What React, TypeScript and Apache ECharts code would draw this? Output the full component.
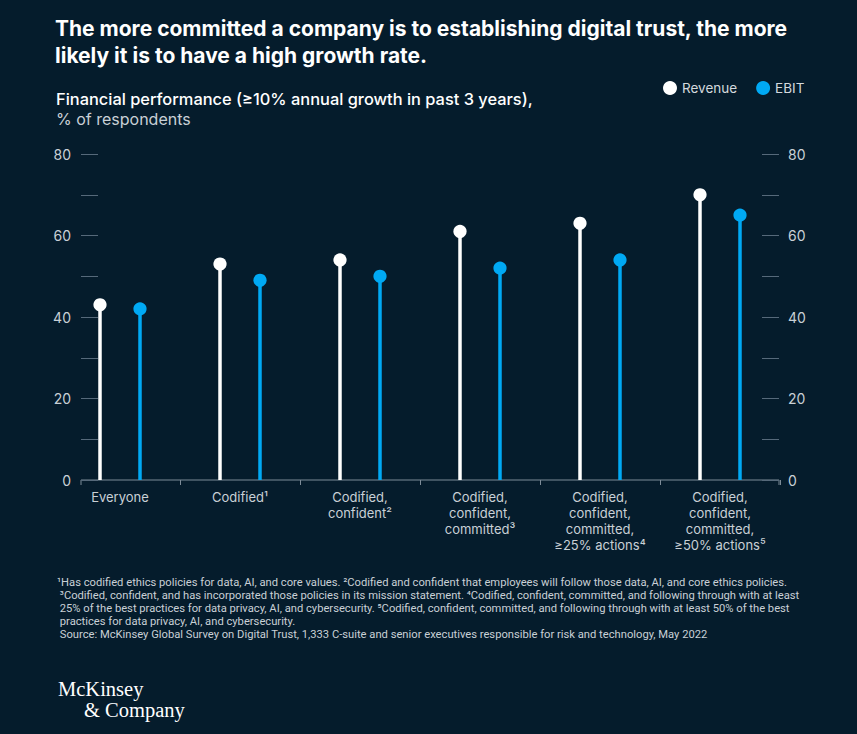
import React, { useEffect, useRef } from 'react';
import * as echarts from 'echarts';

const categories = [
  'Everyone',
  'Codified¹',
  'Codified,\nconfident²',
  'Codified,\nconfident,\ncommitted³',
  'Codified,\nconfident,\ncommitted,\n≥25% actions⁴',
  'Codified,\nconfident,\ncommitted,\n≥50% actions⁵',
];
const revenue = [43, 53, 54, 61, 63, 70];
const ebit = [42, 49, 50, 52, 54, 65];
const yTickLabels = [0, 20, 40, 60, 80];

const titleLines = [
  'The more committed a company is to establishing digital trust, the more',
  'likely it is to have a high growth rate.',
];
const subtitle = 'Financial performance (≥10% annual growth in past 3 years),';
const unitLine = '% of respondents';
const footnotes = [
  '¹Has codified ethics policies for data, AI, and core values. ²Codified and confident that employees will follow those data, AI, and core ethics policies.',
  ' ³Codified, confident, and has incorporated those policies in its mission statement. ⁴Codified, confident, committed, and following through with at least',
  ' 25% of the best practices for data privacy, AI, and cybersecurity. ⁵Codified, confident, committed, and following through with at least 50% of the best',
  ' practices for data privacy, AI, and cybersecurity.',
  ' Source: McKinsey Global Survey on Digital Trust, 1,333 C-suite and senior executives responsible for risk and technology, May 2022',
];

const BG = '#051c2c';
const BLUE = '#00a9f4';
const WHITE = '#ffffff';
const LABEL = '#c9d0d6';
const TICK = '#56697a';
const FONT = 'Roboto, "Noto Sans", sans-serif';
const WIDE = 'Inter, Roboto, sans-serif';
const SERIF = '"Liberation Serif", "DejaVu Serif", serif';

function lollipop(color: string, sign: number) {
  return (params: any, api: any) => {
    const idx = api.value(0);
    const v = api.value(1);
    const top = api.coord([idx, v]);
    const base = api.coord([idx, 0]);
    const band = api.size([1, 0])[0];
    const x = top[0] + (sign * band) / 6;
    return {
      type: 'group',
      children: [
        {
          type: 'line',
          shape: { x1: x, y1: base[1], x2: x, y2: top[1] },
          style: { stroke: color, lineWidth: 3.5 },
        },
        {
          type: 'circle',
          shape: { cx: x, cy: top[1], r: 6.6 },
          style: { fill: color },
        },
      ],
    };
  };
}

export default function App() {
  const ref = useRef<HTMLDivElement>(null);
  useEffect(() => {
    if (!ref.current) return;
    const chart = echarts.init(ref.current, undefined, { renderer: 'svg' });
    const yAxisCommon = {
      type: 'value',
      min: 0,
      max: 80,
      interval: 10,
      axisLine: { show: false },
      splitLine: { show: false },
      axisTick: { show: true, inside: true, length: 17, lineStyle: { color: TICK, width: 1 } },
      axisLabel: {
        color: LABEL,
        fontSize: 14,
        fontFamily: WIDE,
        formatter: (v: number) => (yTickLabels.includes(v) ? String(v) : ''),
      },
    };
    const graphics: any[] = [];
    titleLines.forEach((t, i) => {
      graphics.push({
        type: 'text',
        left: 55,
        top: 18 + i * 27,
        style: { text: t, fill: '#ffffff', fontSize: 21, fontWeight: 'bold', fontFamily: WIDE },
      });
    });
    graphics.push({
      type: 'text',
      left: 56,
      top: 91,
      style: { text: subtitle, fill: '#ffffff', fontSize: 16.4, fontWeight: 500, fontFamily: WIDE },
    });
    graphics.push({
      type: 'text',
      left: 56,
      top: 111,
      style: { text: unitLine, fill: LABEL, fontSize: 16, fontFamily: WIDE },
    });
    footnotes.forEach((t, i) => {
      graphics.push({
        type: 'text',
        left: 57,
        top: 577 + i * 13,
        style: { text: t, fill: LABEL, fontSize: 11.2, fontFamily: FONT },
      });
    });
    graphics.push({
      type: 'polyline',
      shape: { points: [[81, 485], [81, 480], [779, 480], [779, 485]] },
      style: { stroke: '#7d8b97', lineWidth: 1, fill: 'none' },
    });
    graphics.push({
      type: 'text',
      left: 58,
      top: 678,
      style: { text: 'McKinsey', fill: '#ffffff', fontSize: 20.5, fontFamily: SERIF },
    });
    graphics.push({
      type: 'text',
      left: 84,
      top: 699,
      style: { text: '& Company', fill: '#ffffff', fontSize: 20.5, fontFamily: SERIF },
    });

    chart.setOption({
      animation: false,
      backgroundColor: BG,
      grid: { left: 60, right: 77, top: 154, bottom: 254 },
      legend: {
        left: 658,
        top: 76,
        itemWidth: 14,
        itemHeight: 14,
        itemGap: 19,
        icon: 'circle',
        textStyle: { color: '#d4d9de', fontSize: 13.5, fontFamily: WIDE },
        data: ['Revenue', 'EBIT'],
      },
      xAxis: {
        type: 'category',
        data: categories,
        boundaryGap: true,
        axisLine: { show: false },
        axisTick: {
          show: true,
          length: 5,
          lineStyle: { color: '#7d8b97' },
          interval: (i: number) => i !== 0,
        },
        axisLabel: {
          color: LABEL,
          fontSize: 13,
          lineHeight: 16,
          fontFamily: WIDE,
          margin: 9,
          interval: 0,
        },
      },
      yAxis: [
        { ...yAxisCommon, position: 'left', offset: -21, axisLabel: { ...yAxisCommon.axisLabel, margin: 10 } },
        { ...yAxisCommon, position: 'right', offset: -1, axisLabel: { ...yAxisCommon.axisLabel, margin: 9 } },
      ],
      series: [
        {
          name: 'Revenue',
          type: 'custom',
          itemStyle: { color: WHITE },
          data: revenue.map((v, i) => [i, v]),
          encode: { x: 0, y: 1 },
          renderItem: lollipop(WHITE, -1),
        },
        {
          name: 'EBIT',
          type: 'custom',
          itemStyle: { color: BLUE },
          data: ebit.map((v, i) => [i, v]),
          encode: { x: 0, y: 1 },
          renderItem: lollipop(BLUE, 1),
        },
      ],
      graphic: graphics,
    });
    return () => chart.dispose();
  }, []);
  return (
    <div
      ref={ref}
      style={{ position: 'fixed', left: 0, top: 0, width: 857, height: 734, background: BG }}
    />
  );
}
